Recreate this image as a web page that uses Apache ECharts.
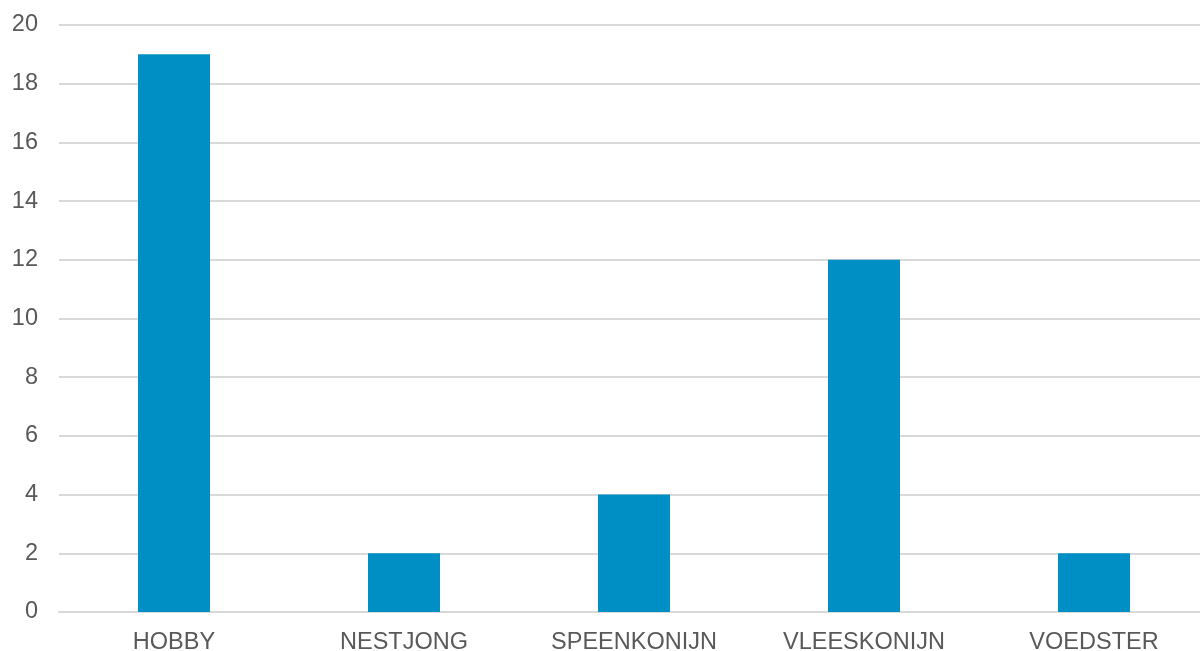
<!DOCTYPE html>
<html>
<head>
<meta charset="utf-8">
<script src="https://cdn.jsdelivr.net/npm/echarts@6/dist/echarts.min.js"></script>
<style>html,body{margin:0;padding:0;background:#fff;}#c{width:1200px;height:651px;}</style>
</head>
<body>
<div id="c"></div>
<script>
const categories = ['HOBBY', 'NESTJONG', 'SPEENKONIJN', 'VLEESKONIJN', 'VOEDSTER'];
const values = [19, 2, 4, 12, 2];
const yTicks = [0, 2, 4, 6, 8, 10, 12, 14, 16, 18, 20];

const chart = echarts.init(document.getElementById('c'), null, {renderer: 'canvas'});
chart.setOption({
  animation: false,
  grid: {left: 59, top: 25, right: -9, height: 587, containLabel: false, outerBoundsMode: 'none'},
  xAxis: {
    type: 'category',
    data: categories,
    axisLine: {lineStyle: {color: '#d9d9d9', width: 2}},
    axisTick: {show: false},
    axisLabel: {color: '#595959', fontSize: 23.5, fontFamily: 'Liberation Sans, Arial, sans-serif', margin: 19}
  },
  yAxis: {
    type: 'value',
    min: yTicks[0],
    max: yTicks[yTicks.length - 1],
    interval: 2,
    axisLine: {show: false},
    axisTick: {show: false},
    splitLine: {lineStyle: {color: '#d9d9d9', width: 2}},
    axisLabel: {color: '#595959', fontSize: 23.5, fontFamily: 'Liberation Sans, Arial, sans-serif', margin: 21}
  },
  series: [{
    type: 'bar',
    data: values,
    barWidth: '31.3%',
    itemStyle: {color: '#008FC4'}
  }]
});
</script>
</body>
</html>
